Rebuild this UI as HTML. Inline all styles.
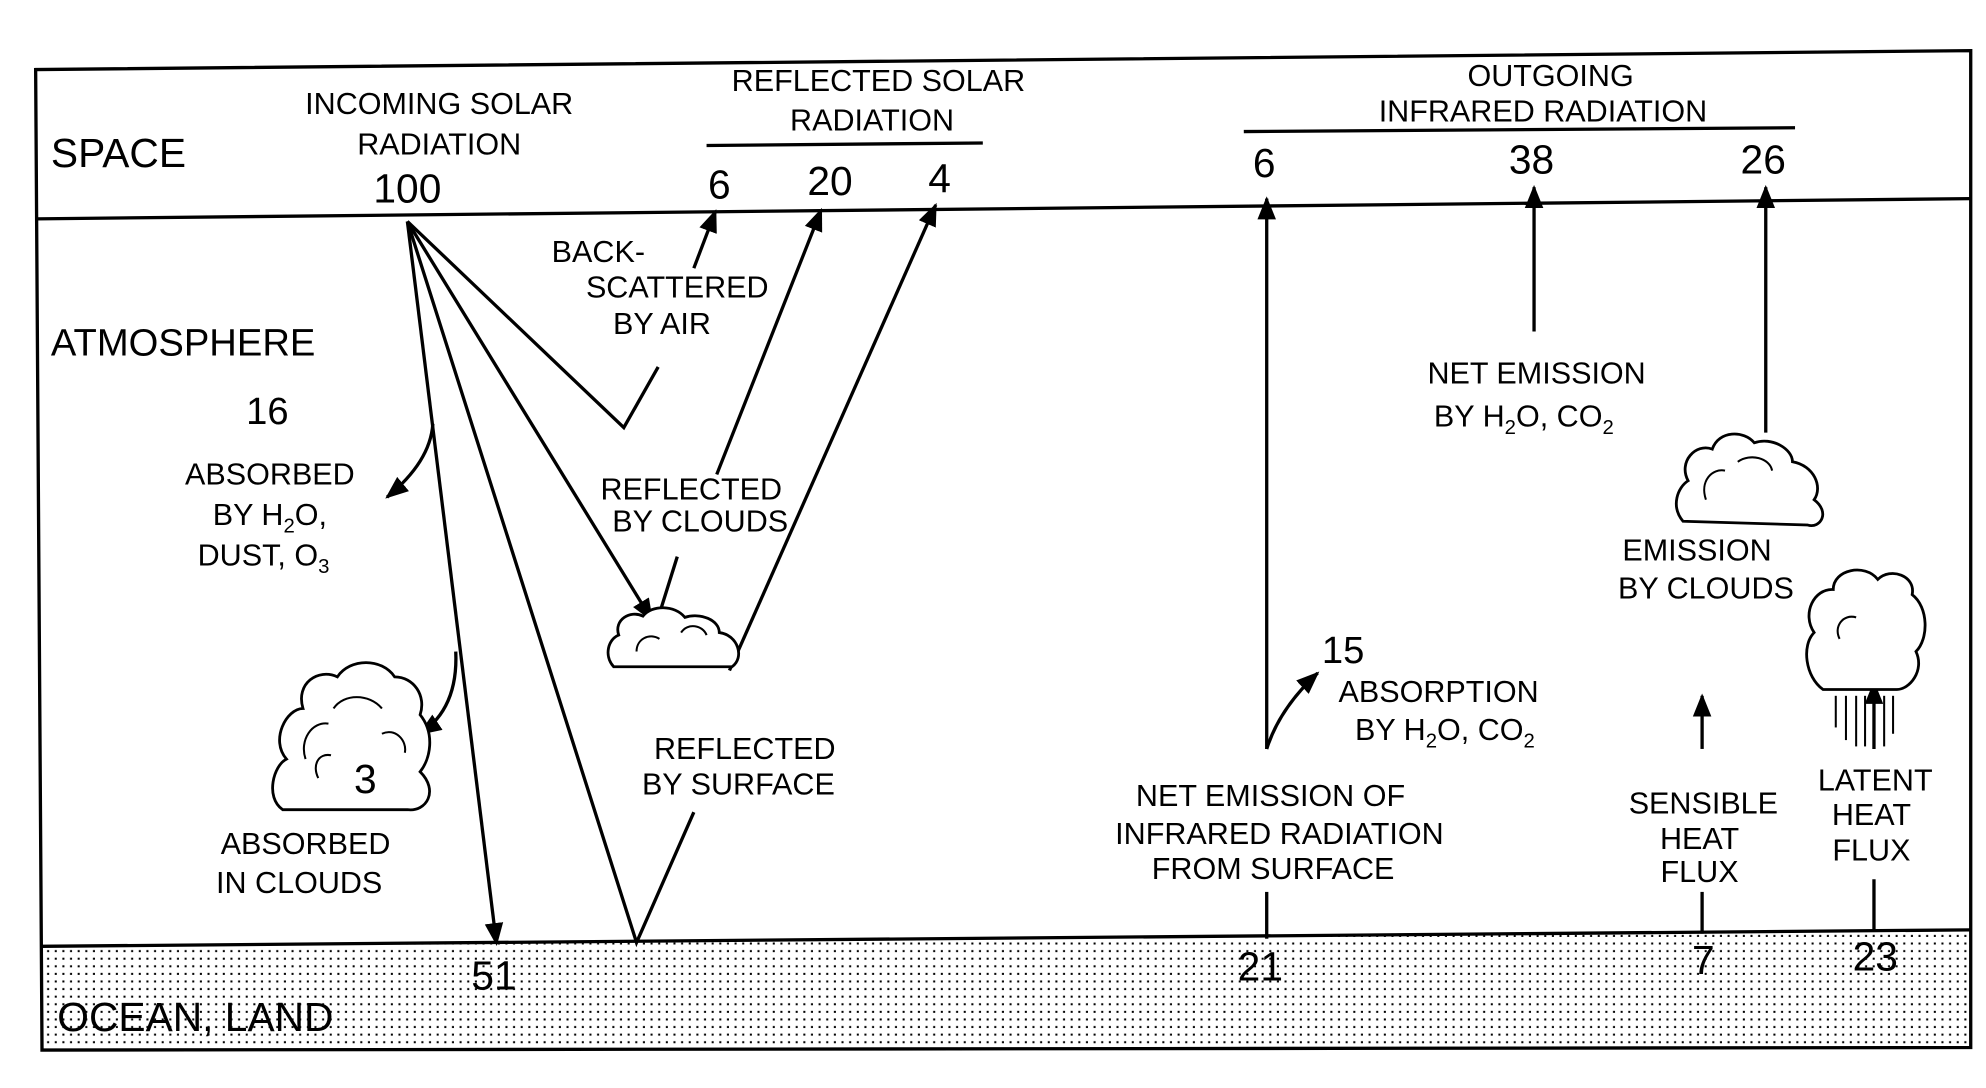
<!DOCTYPE html>
<html><head><meta charset="utf-8"><style>html,body{margin:0;padding:0;background:#fff}svg{display:block}</style></head>
<body>
<svg width="1986" height="1088" viewBox="0 0 1560 860" preserveAspectRatio="none" xmlns="http://www.w3.org/2000/svg">
<defs>
<pattern id="dots" width="6" height="6" patternUnits="userSpaceOnUse"><rect x="1" y="1" width="1.6" height="1.6" fill="#000"/></pattern>
<marker id="ah" viewBox="0 0 10 10" refX="9" refY="5" markerWidth="7" markerHeight="7" orient="auto-start-reverse"><path d="M0,1 L10,5 L0,9 z" fill="#000"/></marker>
</defs>
<g fill="none" stroke="#000" stroke-width="2.6">
<polygon points="33,748 1548,735 1548,828 33,830" fill="url(#dots)" stroke="none"/>
<polygon points="28,55 1548,40 1548,828 33,830" fill="none"/>
<line x1="33" y1="748" x2="1548" y2="735"/>
<line x1="28" y1="173" x2="1548" y2="157"/>
<line x1="555" y1="115" x2="772" y2="113"/>
<line x1="977" y1="104" x2="1410" y2="101"/>
<polyline points="320,175 490,338 517,290"/>
<line x1="545" y1="212" x2="562" y2="167" marker-end="url(#ah)"/>
<line x1="320" y1="175" x2="512" y2="490" marker-end="url(#ah)"/>
<line x1="518" y1="485" x2="532" y2="440"/>
<line x1="563" y1="375" x2="645" y2="166" marker-end="url(#ah)"/>
<polyline points="320,175 500,745 545,642"/>
<line x1="573" y1="530" x2="735" y2="162" marker-end="url(#ah)"/>
<line x1="320" y1="175" x2="390" y2="746" marker-end="url(#ah)"/>
<path d="M340,335 Q338,365 304,393" marker-end="url(#ah)"/>
<path d="M358,515 Q360,560 330,580" marker-end="url(#ah)"/>
<line x1="995" y1="592" x2="995" y2="157" marker-end="url(#ah)"/>
<path d="M995,592 Q1005,560 1035,532" marker-end="url(#ah)"/>
<line x1="995" y1="705" x2="995" y2="742"/>
<line x1="1205" y1="262" x2="1205" y2="148" marker-end="url(#ah)"/>
<line x1="1387" y1="342" x2="1387" y2="148" marker-end="url(#ah)"/>
<line x1="1337" y1="592" x2="1337" y2="550" marker-end="url(#ah)"/>
<line x1="1337" y1="705" x2="1337" y2="738"/>
<line x1="1472" y1="592" x2="1472" y2="540" marker-end="url(#ah)"/>
<line x1="1472" y1="695" x2="1472" y2="735"/>
</g>
<g fill="#fff" stroke="#000" stroke-width="2.2">
<path d="M222,640 C208,630 215,605 225,600 C212,585 225,560 238,560 C232,540 250,528 265,535 C275,520 300,520 310,535 C325,535 335,550 330,565 C342,580 338,600 330,610 C345,625 335,642 320,640 Z"/>
<path d="M482,527 C474,518 478,505 486,502 C482,490 495,482 505,487 C512,478 530,478 538,488 C550,484 565,490 565,500 C580,502 585,520 575,527 Z"/>
<path d="M1322,412 C1312,400 1318,385 1326,380 C1318,365 1332,350 1345,355 C1350,340 1370,340 1378,350 C1392,345 1408,355 1408,365 C1425,368 1432,385 1425,395 C1438,405 1430,418 1420,415 Z"/>
<path d="M1432,545 C1418,535 1415,510 1425,500 C1415,485 1425,465 1440,466 C1440,450 1465,445 1475,458 C1485,448 1505,455 1502,470 C1515,480 1515,505 1505,515 C1512,530 1500,545 1490,545 Z"/>
</g>
<g fill="none" stroke="#000" stroke-width="1.6">
<path d="M240,600 C235,585 245,570 258,572 M262,560 C270,548 290,548 300,560 M250,615 C245,605 250,595 260,597 M300,580 C310,575 320,585 318,595"/>
<path d="M500,515 C500,505 510,500 518,505 M535,500 C540,492 552,494 555,502"/>
<path d="M1340,395 C1335,380 1345,370 1355,372 M1365,365 C1375,358 1390,362 1392,372"/>
<path d="M1445,505 C1440,495 1448,485 1458,488"/>
</g>
<g stroke="#000" stroke-width="1.6">
<line x1="1442" y1="550" x2="1442" y2="575"/><line x1="1450" y1="550" x2="1450" y2="585"/><line x1="1458" y1="550" x2="1458" y2="590"/><line x1="1465" y1="550" x2="1465" y2="590"/><line x1="1480" y1="550" x2="1480" y2="590"/><line x1="1487" y1="550" x2="1487" y2="580"/>
</g>
<g font-family="Liberation Sans, sans-serif" font-size="24" fill="#000" text-anchor="middle">
<text x="40" y="132" font-size="32" text-anchor="start">SPACE</text>
<text x="345" y="90">INCOMING SOLAR</text>
<text x="345" y="122">RADIATION</text>
<text x="320" y="160" font-size="32">100</text>
<text x="690" y="72">REFLECTED SOLAR</text>
<text x="685" y="103">RADIATION</text>
<text x="565" y="157" font-size="32">6</text>
<text x="652" y="154" font-size="32">20</text>
<text x="738" y="152" font-size="32">4</text>
<text x="1218" y="68">OUTGOING</text>
<text x="1212" y="96">INFRARED RADIATION</text>
<text x="993" y="140" font-size="32">6</text>
<text x="1203" y="137" font-size="32">38</text>
<text x="1385" y="137" font-size="32">26</text>
<text x="40" y="281" font-size="30" text-anchor="start">ATMOSPHERE</text>
<text x="210" y="335" font-size="30">16</text>
<text x="212" y="383">ABSORBED</text>
<text x="212" y="415">BY H<tspan font-size="16" dy="6">2</tspan><tspan dy="-6">O,</tspan></text>
<text x="207" y="447">DUST, O<tspan font-size="16" dy="6">3</tspan></text>
<text x="470" y="207">BACK-</text>
<text x="532" y="235">SCATTERED</text>
<text x="520" y="264">BY AIR</text>
<text x="543" y="395">REFLECTED</text>
<text x="550" y="420">BY CLOUDS</text>
<text x="287" y="627" font-size="32">3</text>
<text x="240" y="675">ABSORBED</text>
<text x="235" y="706">IN CLOUDS</text>
<text x="585" y="600">REFLECTED</text>
<text x="580" y="628">BY SURFACE</text>
<text x="1207" y="303">NET EMISSION</text>
<text x="1197" y="337">BY H<tspan font-size="16" dy="6">2</tspan><tspan dy="-6">O, CO</tspan><tspan font-size="16" dy="6">2</tspan></text>
<text x="1333" y="443">EMISSION</text>
<text x="1340" y="473">BY CLOUDS</text>
<text x="1055" y="524" font-size="30">15</text>
<text x="1130" y="555">ABSORPTION</text>
<text x="1135" y="585">BY H<tspan font-size="16" dy="6">2</tspan><tspan dy="-6">O, CO</tspan><tspan font-size="16" dy="6">2</tspan></text>
<text x="998" y="637">NET EMISSION OF</text>
<text x="1005" y="667">INFRARED RADIATION</text>
<text x="1000" y="695">FROM SURFACE</text>
<text x="1338" y="643">SENSIBLE</text>
<text x="1335" y="671">HEAT</text>
<text x="1335" y="697">FLUX</text>
<text x="1473" y="625">LATENT</text>
<text x="1470" y="652">HEAT</text>
<text x="1470" y="680">FLUX</text>
<text x="388" y="782" font-size="32">51</text>
<text x="990" y="775" font-size="32">21</text>
<text x="1338" y="770" font-size="32">7</text>
<text x="1473" y="767" font-size="32">23</text>
<text x="45" y="815" font-size="32" text-anchor="start">OCEAN, LAND</text>
</g>
</svg>
</body></html>
